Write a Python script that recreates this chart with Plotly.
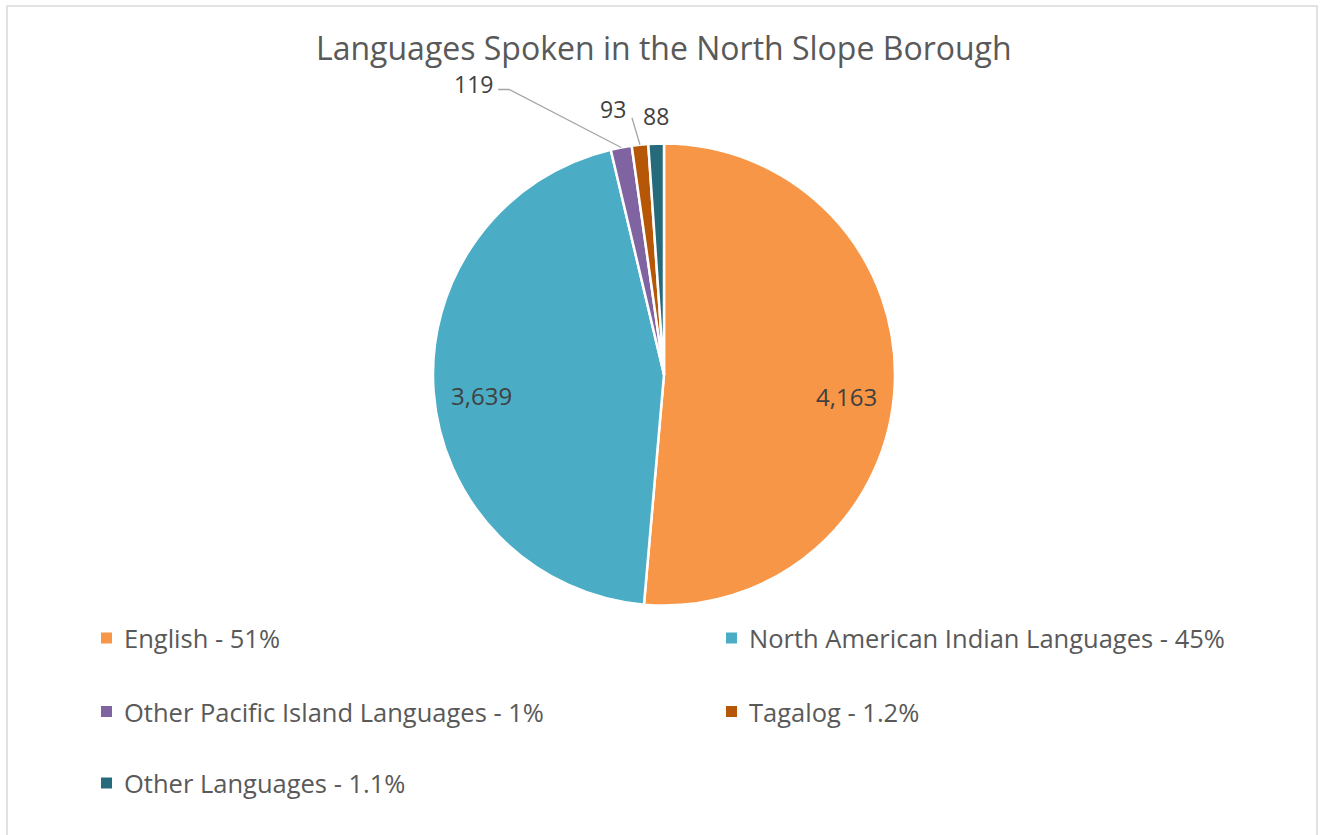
import math
import plotly.graph_objects as go

# Language counts for the North Slope Borough
languages = ["English", "North American Indian Languages", "Other Pacific Island Languages",
             "Tagalog", "Other Languages"]
speakers = [4163, 3639, 119, 93, 88]
legend_labels = ["English - 51%", "North American Indian Languages - 45%",
                 "Other Pacific Island Languages - 1%", "Tagalog - 1.2%",
                 "Other Languages - 1.1%"]
colors = ["#F79646", "#4BACC6", "#8064A2", "#B65708", "#276A7C"]

W, H = 1325, 835
FONT = "Open Sans"
TEXT = "#595959"
LABEL = "#404040"

def fx(x):
    return x / W

def fy(y):
    return 1 - y / H

# pie geometry in pixels
cx, cy, R = 664, 374.5, 231

fig = go.Figure(go.Pie(
    labels=languages, values=speakers, sort=False, direction="clockwise", rotation=0,
    marker=dict(colors=colors, line=dict(color="white", width=2.5)),
    textinfo="none", hoverinfo="label+value", showlegend=False,
    domain=dict(x=[fx(cx - R), fx(cx + R)], y=[fy(cy + R), fy(cy - R)]),
))

total = sum(speakers)
cum = 0
mids = []
for v in speakers:
    mids.append((cum + v / 2) / total * 2 * math.pi)
    cum += v

def rim(theta, r):
    return cx + r * math.sin(theta), cy - r * math.cos(theta)

def text_at(x, y, text, size, color, xanchor="center"):
    return dict(x=fx(x), y=fy(y), xref="paper", yref="paper", xanchor=xanchor,
                yanchor="middle", text=text, showarrow=False,
                font=dict(family=FONT, size=size, color=color))

annotations = []
shapes = []

# inside labels for the two large slices
for i, shift in [(0, 14), (1, 8)]:
    x, y = rim(mids[i], 0.79 * R)
    annotations.append(text_at(x, y + shift, f"{speakers[i]:,}", 24, LABEL))

# outside labels for the small slices: (text offset from rim point, leader path)
outside = {
    2: dict(dx=-148, dy=-64, leader=[(-112, -58), (-123, -58)]),
    3: dict(dx=-27, dy=-36, leader=[(-8, -27)]),
    4: dict(dx=0, dy=-28, leader=None),
}
for i, spec in outside.items():
    ax, ay = rim(mids[i], R)
    annotations.append(text_at(ax + spec["dx"], ay + spec["dy"], f"{speakers[i]:,}", 23, LABEL))
    if spec["leader"]:
        pts = [(ax, ay)] + [(ax + dx, ay + dy) for dx, dy in spec["leader"]]
        path = "M " + " L ".join(f"{fx(px)},{fy(py)}" for px, py in pts)
        shapes.append(dict(type="path", xref="paper", yref="paper", path=path,
                           line=dict(color="#A6A6A6", width=1.3)))

# legend in two columns
legend_cols = [101, 726]
legend_rows = [638, 711.5, 783]
for k, (lab, col) in enumerate(zip(legend_labels, colors)):
    x0 = legend_cols[k % 2]
    y0 = legend_rows[k // 2]
    shapes.append(dict(type="rect", xref="paper", yref="paper",
                       x0=fx(x0), x1=fx(x0 + 11), y0=fy(y0 + 5.5), y1=fy(y0 - 5.5),
                       fillcolor=col, line=dict(width=0)))
    annotations.append(text_at(x0 + 21, y0, lab, 25.5, TEXT, xanchor="left"))

# chart area border
shapes.append(dict(type="rect", xref="paper", yref="paper", x0=fx(7), x1=fx(1317),
                   y0=fy(840), y1=fy(6), line=dict(color="#D9D9D9", width=1.5)))

annotations.append(text_at(664, 48, "Languages Spoken in the North Slope Borough", 32, TEXT))

fig.update_layout(width=W, height=H, margin=dict(l=0, r=0, t=0, b=0),
                  paper_bgcolor="white", plot_bgcolor="white",
                  annotations=annotations, shapes=shapes)

fig.write_html("out.html")
